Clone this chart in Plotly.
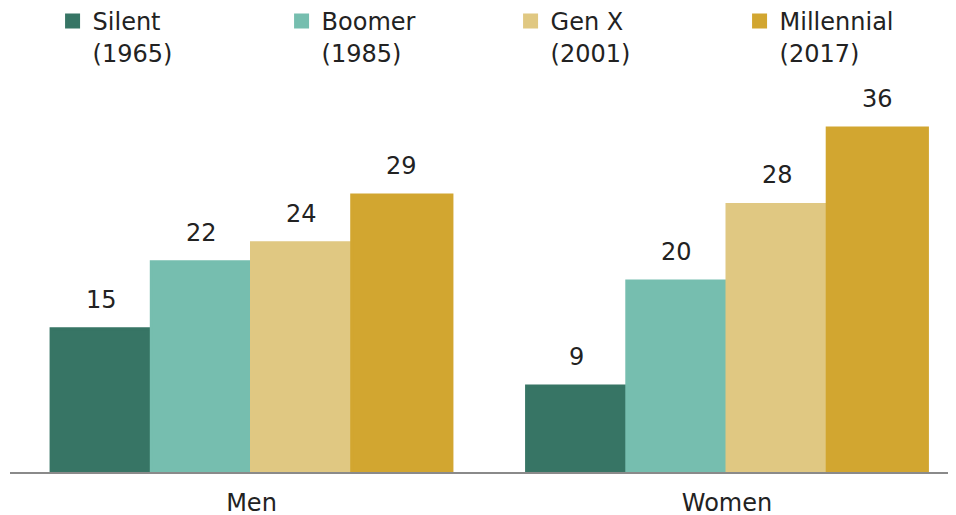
import plotly.graph_objects as go

categories = ["Men", "Women"]
series_names = ["Silent<br>(1965)", "Boomer<br>(1985)", "Gen X<br>(2001)", "Millennial<br>(2017)"]
silent = [15, 9]
boomer = [22, 20]
genx = [24, 28]
millennial = [29, 36]
series_values = [silent, boomer, genx, millennial]
colors = ["#377565", "#76BEAF", "#E0C882", "#D2A630"]

FONT = "DejaVu Sans"
bargap = 0.157
n = len(series_values)

fig = go.Figure()
for name, vals, col in zip(series_names, series_values, colors):
    fig.add_trace(go.Bar(x=categories, y=vals, name=name,
                         marker=dict(color=col, line=dict(width=3, color=col)),
                         hoverinfo="skip"))

# value labels above bars
w = (1 - bargap) / n
for i, vals in enumerate(series_values):
    for j, v in enumerate(vals):
        fig.add_annotation(x=j + (i - (n - 1) / 2) * w, y=v, text=str(v), showarrow=False,
                           yshift=29, yanchor="middle", xanchor="center",
                           font=dict(family=FONT, size=24, color="#222222"))

fig.update_layout(
    width=956, height=515,
    margin=dict(l=2, r=8, t=90, b=51, autoexpand=False),
    paper_bgcolor="white", plot_bgcolor="white",
    barmode="group", bargap=bargap, bargroupgap=0,
    font=dict(family=FONT, color="#222222"),
    showlegend=True,
    legend=dict(orientation="h", xref="paper", yref="paper", x=0.045, y=1.265,
                xanchor="left", yanchor="top", valign="top",
                entrywidth=184, entrywidthmode="pixels",
                font=dict(family=FONT, size=24, color="#222222"),
                traceorder="normal", itemclick=False, itemdoubleclick=False),
    xaxis=dict(range=[-0.5079, 1.4816], showgrid=False, zeroline=False,
               showline=True, linecolor="#8a8a8a", linewidth=2, ticks="",
               ticklabelstandoff=8,
               tickfont=dict(family=FONT, size=24, color="#222222")),
    yaxis=dict(range=[0, 39.14], showgrid=False, zeroline=False, showticklabels=False,
               showline=False, ticks=""),
)

fig.write_html("out.html")
